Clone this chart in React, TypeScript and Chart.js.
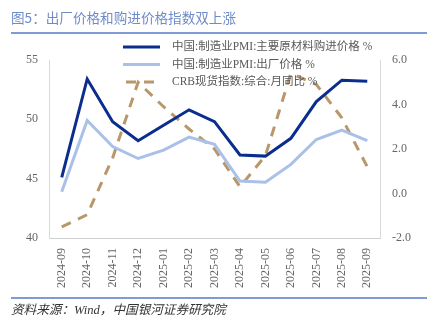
import React, { useEffect, useRef } from "react";
import { Chart, registerables } from "chart.js";

Chart.register(...registerables);

const categories = [
  "2024-09", "2024-10", "2024-11", "2024-12", "2025-01", "2025-02", "2025-03",
  "2025-04", "2025-05", "2025-06", "2025-07", "2025-08", "2025-09",
];
const purchasePrice = [45.1, 53.4, 49.8, 48.2, 49.5, 50.8, 49.8, 47.0, 46.9, 48.4, 51.5, 53.3, 53.2];
const outputPrice = [43.9, 49.9, 47.7, 46.7, 47.4, 48.5, 47.9, 44.8, 44.7, 46.2, 48.3, 49.1, 48.2];
const crbYoY = [-1.5, -0.95, 1.6, 5.0, 3.9, 2.9, 2.0, 0.3, 1.7, 5.4, 4.9, 3.4, 1.2];

const seriesNames = [
  "中国:制造业PMI:主要原材料购进价格 %",
  "中国:制造业PMI:出厂价格 %",
  "CRB现货指数:综合:月同比 %",
];

const leftTicks = [40, 45, 50, 55];
const rightTicks = [-2, 0, 2, 4, 6];

const SERIF = "'Liberation Serif', 'Times New Roman', 'Noto Sans CJK SC', serif";

const legendPlugin = {
  id: "customLegend",
  afterDraw(chart: any) {
    const ctx = chart.ctx;
    const area = chart.chartArea;
    const x0 = area.left + 74;
    const y0 = area.top - 13;
    const step = 17.5;
    ctx.save();
    chart.data.datasets.forEach((ds: any, i: number) => {
      const y = y0 + i * step;
      ctx.beginPath();
      ctx.strokeStyle = ds.borderColor;
      ctx.lineWidth = ds.borderWidth;
      ctx.setLineDash(ds.borderDash || []);
      ctx.lineDashOffset = ds.borderDash ? -3 : 0;
      ctx.moveTo(x0, y);
      ctx.lineTo(x0 + 37, y);
      ctx.stroke();
      ctx.setLineDash([]);
      ctx.fillStyle = "#595959";
      ctx.font = "11.5px " + SERIF;
      ctx.textBaseline = "middle";
      ctx.textAlign = "left";
      ctx.fillText(ds.label, x0 + 49, y);
    });
    ctx.restore();
  },
};

export default function App() {
  const ref = useRef<HTMLCanvasElement | null>(null);

  useEffect(() => {
    if (!ref.current) return;
    const chart = new Chart(ref.current, {
      type: "line",
      data: {
        labels: categories,
        datasets: [
          {
            label: seriesNames[0],
            data: purchasePrice,
            borderColor: "#0b2e8e",
            borderWidth: 3,
            pointRadius: 0,
            yAxisID: "y",
            tension: 0,
          },
          {
            label: seriesNames[1],
            data: outputPrice,
            borderColor: "#a9c0e8",
            borderWidth: 3,
            pointRadius: 0,
            yAxisID: "y",
            tension: 0,
          },
          {
            label: seriesNames[2],
            data: crbYoY,
            borderColor: "#b8976a",
            borderWidth: 3,
            borderDash: [10, 8],
            pointRadius: 0,
            yAxisID: "y1",
            tension: 0,
          },
        ],
      },
      options: {
        animation: false,
        responsive: false,
        maintainAspectRatio: false,
        layout: { padding: { top: 60, left: 0, right: 0, bottom: 0 } },
        plugins: {
          legend: { display: false },
          tooltip: { enabled: false },
          title: { display: false },
        },
        scales: {
          x: {
            offset: true,
            grid: { display: false, drawTicks: false },
            border: { display: true, color: "#d0d0d0", width: 1 },
            ticks: {
              minRotation: 90,
              maxRotation: 90,
              padding: 10,
              color: "#666666",
              font: { family: SERIF, size: 12 },
              autoSkip: false,
            },
            afterFit(scale: any) {
              scale.height = 84;
            },
          },
          y: {
            position: "left",
            min: 40,
            max: 55,
            afterBuildTicks(scale: any) {
              scale.ticks = leftTicks.map((v) => ({ value: v }));
            },
            grid: { display: false, drawTicks: false },
            border: { display: true, color: "#d9d9d9", width: 1 },
            ticks: {
              padding: 11,
              color: "#666666",
              font: { family: SERIF, size: 12 },
              callback: (v: any) => String(v),
            },
            afterFit(scale: any) {
              scale.width = 49;
            },
          },
          y1: {
            position: "right",
            min: -2,
            max: 6,
            afterBuildTicks(scale: any) {
              scale.ticks = rightTicks.map((v) => ({ value: v }));
            },
            grid: { display: false, drawTicks: false },
            border: { display: true, color: "#d9d9d9", width: 1 },
            ticks: {
              padding: 12,
              color: "#666666",
              font: { family: SERIF, size: 12 },
              callback: (v: any) => Number(v).toFixed(1),
            },
            afterFit(scale: any) {
              scale.width = 54;
            },
          },
        },
      },
      plugins: [legendPlugin],
    });
    return () => chart.destroy();
  }, []);

  return (
    <div style={{ position: "absolute", left: 0, top: 0, width: 434, height: 322, background: "#fff", overflow: "hidden" }}>
      <canvas ref={ref} width={434} height={322} style={{ position: "absolute", left: 0, top: 0, width: 434, height: 322 }} />
      <div
        style={{
          position: "absolute",
          left: 11,
          top: 7,
          fontFamily: "'Noto Sans CJK SC', 'Noto Sans', sans-serif",
          fontSize: 13.6,
          color: "#6f8cc9",
          whiteSpace: "nowrap",
          lineHeight: "20px",
        }}
      >
        图5：出厂价格和购进价格指数双上涨
      </div>
      <div style={{ position: "absolute", left: 11, width: 416, top: 32, height: 2, background: "#7f9ad5" }} />
      <div style={{ position: "absolute", left: 11, width: 416, top: 297, height: 2, background: "#7f9ad5" }} />
      <div
        style={{
          position: "absolute",
          left: 11,
          top: 301,
          fontFamily: SERIF,
          fontStyle: "italic",
          fontSize: 12.6,
          color: "#333",
          whiteSpace: "nowrap",
          lineHeight: "18px",
        }}
      >
        资料来源：Wind，中国银河证券研究院
      </div>
    </div>
  );
}
